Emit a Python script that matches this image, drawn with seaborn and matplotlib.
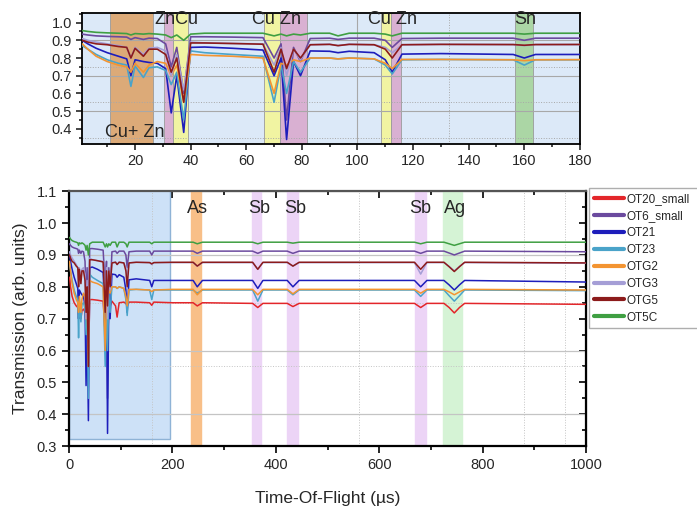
import numpy as np
import pandas as pd
import seaborn as sns
import matplotlib
matplotlib.use("Agg")
import matplotlib.pyplot as plt
from matplotlib.lines import Line2D
from matplotlib.patches import Rectangle
from matplotlib.ticker import MultipleLocator

sns.set_style("ticks")
plt.rcParams['font.family'] = ['Liberation Sans', 'DejaVu Sans']

# time-of-flight sampling points (us)
x_tof = [1, 3, 6, 10, 14, 17, 18.5, 20, 23, 25, 28, 31, 33, 35, 37.5,
         40, 45, 55, 66, 70, 72.5, 74.5, 77, 79.5, 83, 90, 93, 97, 106, 110,
         112.5, 116, 130, 156, 160, 164, 200, 240, 248, 258, 355, 365, 375, 422, 433,
         445, 668, 680, 692, 725, 735, 745, 755, 765, 1000]

names = ['OT20_small', 'OT6_small', 'OT21', 'OT23', 'OTG2', 'OTG3', 'OTG5', 'OT5C']
colors = ['#e3262a', '#6b4a9e', '#1d1dbb', '#4aa3c9', '#f39431', '#a59ed6', '#8c1b1b', '#3f9f42']

ot20_small = [0.830, 0.800, 0.770, 0.750, 0.740, 0.735, 0.700, 0.730, 0.700, 0.725,
              0.730, 0.720, 0.680, 0.720, 0.550, 0.760, 0.760, 0.758, 0.755, 0.650,
              0.740, 0.600, 0.745, 0.740, 0.755, 0.740, 0.705, 0.750, 0.752, 0.748,
              0.740, 0.752, 0.752, 0.750, 0.742, 0.752, 0.750, 0.750, 0.740, 0.750,
              0.748, 0.735, 0.748, 0.748, 0.738, 0.748, 0.748, 0.735, 0.748, 0.748,
              0.735, 0.718, 0.735, 0.748, 0.745]
ot6_small = [0.935, 0.930, 0.925, 0.922, 0.920, 0.918, 0.905, 0.915, 0.905, 0.912,
             0.910, 0.880, 0.750, 0.860, 0.600, 0.920, 0.920, 0.918, 0.915, 0.800,
             0.880, 0.450, 0.860, 0.780, 0.910, 0.912, 0.905, 0.912, 0.912, 0.900,
             0.860, 0.910, 0.912, 0.912, 0.900, 0.912, 0.912, 0.912, 0.905, 0.912,
             0.912, 0.905, 0.912, 0.912, 0.905, 0.912, 0.912, 0.905, 0.912, 0.912,
             0.906, 0.900, 0.906, 0.912, 0.910]
ot21 = [0.900, 0.880, 0.855, 0.830, 0.810, 0.795, 0.700, 0.790, 0.780, 0.775,
        0.770, 0.740, 0.490, 0.700, 0.380, 0.860, 0.862, 0.855, 0.845, 0.700,
        0.800, 0.340, 0.780, 0.700, 0.840, 0.838, 0.830, 0.838, 0.830, 0.790,
        0.720, 0.822, 0.825, 0.820, 0.800, 0.820, 0.820, 0.820, 0.800, 0.820,
        0.820, 0.795, 0.820, 0.820, 0.800, 0.820, 0.820, 0.800, 0.820, 0.820,
        0.806, 0.790, 0.806, 0.820, 0.815]
ot23 = [0.870, 0.850, 0.820, 0.790, 0.770, 0.760, 0.640, 0.755, 0.690, 0.745,
        0.750, 0.730, 0.650, 0.720, 0.450, 0.840, 0.830, 0.820, 0.810, 0.550,
        0.760, 0.600, 0.780, 0.720, 0.800, 0.800, 0.795, 0.800, 0.795, 0.760,
        0.710, 0.790, 0.792, 0.790, 0.760, 0.790, 0.790, 0.790, 0.780, 0.790,
        0.790, 0.755, 0.790, 0.790, 0.775, 0.790, 0.790, 0.770, 0.790, 0.790,
        0.772, 0.755, 0.772, 0.790, 0.788]
otg2 = [0.880, 0.850, 0.810, 0.780, 0.760, 0.750, 0.720, 0.770, 0.720, 0.760,
        0.780, 0.770, 0.700, 0.760, 0.550, 0.820, 0.815, 0.810, 0.800, 0.600,
        0.770, 0.760, 0.790, 0.780, 0.800, 0.800, 0.795, 0.800, 0.795, 0.770,
        0.740, 0.792, 0.792, 0.790, 0.785, 0.790, 0.792, 0.792, 0.775, 0.792,
        0.792, 0.775, 0.792, 0.792, 0.778, 0.792, 0.792, 0.780, 0.792, 0.792,
        0.784, 0.775, 0.784, 0.792, 0.790]
otg3 = [0.910, 0.900, 0.890, 0.880, 0.870, 0.860, 0.800, 0.860, 0.820, 0.855,
        0.860, 0.840, 0.700, 0.820, 0.620, 0.890, 0.885, 0.882, 0.880, 0.760,
        0.860, 0.700, 0.850, 0.790, 0.875, 0.878, 0.870, 0.878, 0.875, 0.860,
        0.830, 0.875, 0.877, 0.876, 0.870, 0.876, 0.876, 0.876, 0.865, 0.876,
        0.876, 0.855, 0.876, 0.876, 0.865, 0.876, 0.876, 0.840, 0.876, 0.876,
        0.864, 0.850, 0.864, 0.876, 0.874]
otg5 = [0.900, 0.890, 0.880, 0.875, 0.865, 0.860, 0.800, 0.855, 0.810, 0.850,
        0.850, 0.820, 0.720, 0.800, 0.550, 0.885, 0.885, 0.882, 0.878, 0.720,
        0.850, 0.740, 0.850, 0.800, 0.875, 0.877, 0.870, 0.877, 0.875, 0.850,
        0.800, 0.875, 0.877, 0.876, 0.872, 0.876, 0.877, 0.877, 0.865, 0.877,
        0.877, 0.855, 0.877, 0.877, 0.865, 0.877, 0.877, 0.855, 0.877, 0.877,
        0.863, 0.848, 0.863, 0.877, 0.875]
ot5c = [0.955, 0.950, 0.945, 0.942, 0.940, 0.938, 0.930, 0.938, 0.935, 0.938,
        0.935, 0.930, 0.915, 0.930, 0.900, 0.935, 0.940, 0.940, 0.940, 0.925,
        0.935, 0.925, 0.935, 0.930, 0.940, 0.940, 0.925, 0.940, 0.940, 0.935,
        0.925, 0.940, 0.940, 0.940, 0.935, 0.940, 0.940, 0.940, 0.935, 0.940,
        0.940, 0.935, 0.940, 0.940, 0.937, 0.940, 0.940, 0.935, 0.940, 0.940,
        0.935, 0.930, 0.935, 0.940, 0.940]

series = [ot20_small, ot6_small, ot21, ot23, otg2, otg3, otg5, ot5c]
df = pd.concat([pd.DataFrame({'tof': x_tof, 'T': s, 'sample': n})
                for n, s in zip(names, series)], ignore_index=True)
pal = dict(zip(names, colors))

# resonance windows (us): top inset and main panel
inset_bands = [(11, 26.5, '#dcaa78'), (30.3, 33.8, '#d9b0d2'), (33.8, 39, '#f1f4a2'),
               (66.5, 72, '#f1f4a2'), (72, 82, '#d9b0d2'), (108.4, 112, '#f1f4a2'),
               (112, 115.6, '#d9b0d2'), (156.7, 163.3, '#abd6a5')]
inset_labels = [(20, 0.38, 'Cu+ Zn'), (35, 1.015, 'ZnCu'), (71, 1.015, 'Cu Zn'),
                (112.5, 1.015, 'Cu Zn'), (160.5, 1.015, 'Sn')]
main_bands = [(236, 255, '#f8bf88'), (354, 371, '#ecd4f6'), (422, 443, '#ecd4f6'),
              (669, 690, '#ecd4f6'), (723, 760, '#d5f3d5')]
main_labels = [(248, 1.045, 'As'), (367, 1.045, 'Sb'), (437, 1.045, 'Sb'),
               (680, 1.045, 'Sb'), (746, 1.045, 'Ag')]

fig = plt.figure(figsize=(6.97, 5.14), dpi=100)
ax_in = fig.add_axes([0.118, 0.720, 0.714, 0.255])
ax = fig.add_axes([0.099, 0.132, 0.742, 0.496])

# ---- inset panel
ax_in.set_facecolor('#dce9f8')
for x0, x1, c in inset_bands:
    ax_in.axvspan(x0, x1, color=c, ec='#9a9a9a', lw=0.6, zorder=1)
for yv in (0.5, 0.7, 0.9):
    ax_in.axhline(yv, color='#a8a8a8', lw=0.8, zorder=1.5)
for yv in (0.35, 0.55, 0.75):
    ax_in.axhline(yv, color='#a8a8a8', lw=0.7, ls=':', zorder=1.5)
ax_in.axvline(100, color='#a8a8a8', lw=0.8, zorder=1.5)
ax_in.axvline(133, color='#a8a8a8', lw=0.7, ls=':', zorder=1.5)
sns.lineplot(data=df[df['sample'] != 'OT20_small'], x='tof', y='T', hue='sample',
             hue_order=names[1:], palette=pal, estimator=None, sort=False,
             lw=1.2, legend=False, ax=ax_in, zorder=3)
for xv, yv, t in inset_labels:
    ax_in.text(xv, yv, t, ha='center', va='center', fontsize=13, zorder=5)
ax_in.set_xlim(1, 180)
ax_in.set_ylim(0.315, 1.055)
ax_in.xaxis.set_major_locator(MultipleLocator(20))
ax_in.xaxis.set_minor_locator(MultipleLocator(10))
ax_in.yaxis.set_major_locator(MultipleLocator(0.1))
ax_in.yaxis.set_minor_locator(MultipleLocator(0.05))
ax_in.tick_params(which='both', direction='out', labelsize=10.5, width=1.2)
ax_in.tick_params(which='major', length=4)
ax_in.tick_params(which='minor', length=2)
ax_in.set_xlabel('')
ax_in.set_ylabel('')
for sp in ax_in.spines.values():
    sp.set_linewidth(1.3)
    sp.set_color('black')

# ---- main panel
ax.add_patch(Rectangle((0, 0.322), 195, 0.8, fc='#cde1f7', ec='#8fb3d6', lw=1, zorder=0.8))
for x0, x1, c in main_bands:
    ax.axvspan(x0, x1, color=c, zorder=1)
for yv in (0.4, 0.6, 0.9):
    ax.axhline(yv, color='#c4c4c4', lw=0.9, zorder=1.5)
for yv in (0.55, 0.75):
    ax.axhline(yv, color='#c4c4c4', lw=0.7, ls=':', zorder=1.5)
for xv in (160, 560, 880, 960):
    ax.axvline(xv, color='#c4c4c4', lw=0.7, ls=':', zorder=1.5)
sns.lineplot(data=df, x='tof', y='T', hue='sample', hue_order=names, palette=pal,
             estimator=None, sort=False, lw=1.1, legend=False, ax=ax, zorder=3)
for xv, yv, t in main_labels:
    ax.text(xv, yv, t, ha='center', va='center', fontsize=13, zorder=5)
ax.set_xlim(0, 1000)
ax.set_ylim(0.3, 1.1)
ax.xaxis.set_major_locator(MultipleLocator(200))
ax.xaxis.set_minor_locator(MultipleLocator(100))
ax.yaxis.set_major_locator(MultipleLocator(0.1))
ax.yaxis.set_minor_locator(MultipleLocator(0.05))
ax.tick_params(which='both', direction='out', labelsize=10.5, width=1.4)
ax.tick_params(which='major', length=5)
ax.tick_params(which='minor', length=3)
ax.set_xlabel('Time-Of-Flight (\u00b5s)', fontsize=12.5, labelpad=14)
ax.set_ylabel('Transmission (arb. units)', fontsize=12.5, labelpad=6)
for sp in ax.spines.values():
    sp.set_linewidth(1.6)
    sp.set_color('black')
ax.spines['top'].set_color('#555555')

sec_x = ax.secondary_xaxis('top')
sec_x.xaxis.set_major_locator(MultipleLocator(200))
sec_x.xaxis.set_minor_locator(MultipleLocator(100))
sec_x.tick_params(which='both', direction='in', labeltop=False, width=1.4)
sec_x.tick_params(which='major', length=5)
sec_x.tick_params(which='minor', length=3)
sec_y = ax.secondary_yaxis('right')
sec_y.yaxis.set_major_locator(MultipleLocator(0.1))
sec_y.yaxis.set_minor_locator(MultipleLocator(0.05))
sec_y.tick_params(which='both', direction='in', labelright=False, width=1.4)
sec_y.tick_params(which='major', length=5)
sec_y.tick_params(which='minor', length=3)

handles = [Line2D([], [], color=c, lw=3) for c in colors]
leg = fig.legend(handles, names, loc='upper left',
                 bbox_to_anchor=(0.845, 0.336, 0.2, 0.298), mode='expand',
                 fontsize=8.5, frameon=True, fancybox=False, handlelength=2.6,
                 handletextpad=0.2, labelspacing=0.42, borderaxespad=0,
                 borderpad=0.4)
leg.get_frame().set_edgecolor('#9a9a9a')
leg.get_frame().set_linewidth(1.0)

fig.savefig('out.png', dpi=100)
